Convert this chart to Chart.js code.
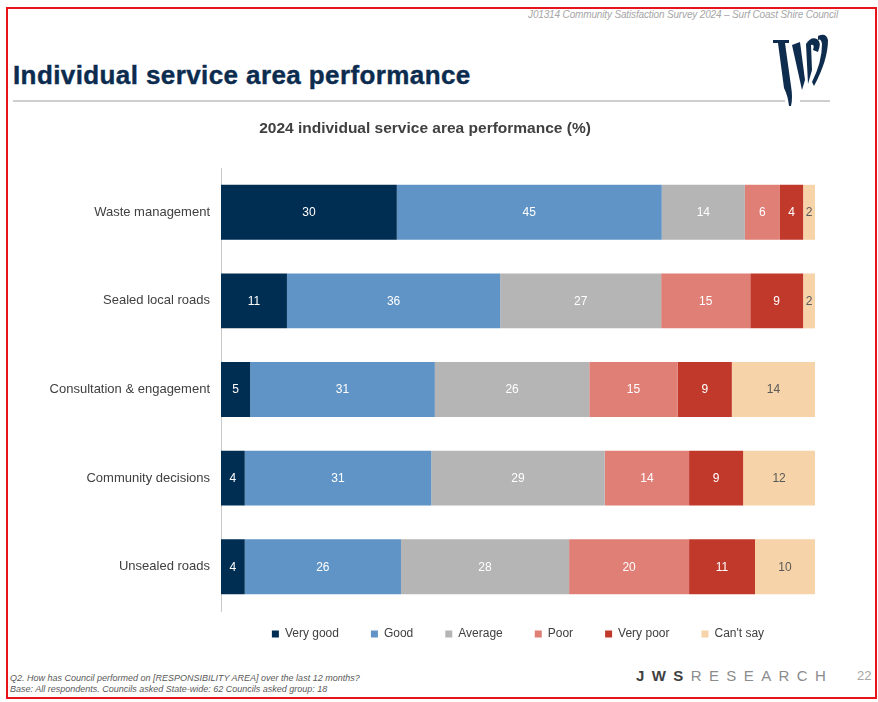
<!DOCTYPE html>
<html>
<head>
<meta charset="utf-8">
<script src="https://cdn.jsdelivr.net/npm/chart.js@4"></script>
<style>
  body { margin: 0; background: #fff; font-family: "Liberation Sans", Arial, sans-serif; }
  #slide { position: relative; width: 878px; height: 702px; overflow: hidden; background: #fff; }
  #frame { position: absolute; left: 6px; top: 7px; width: 871px; height: 692px; border: 2px solid #e8141b; box-sizing: border-box; }
  .abs { position: absolute; white-space: nowrap; }
  #survey { right: 40px; top: 9px; font-size: 10px; font-style: italic; color: #a6a6a6; letter-spacing: -0.15px; }
  #heading { left: 13px; top: 60px; font-size: 26px; font-weight: bold; color: #0c2c4f; letter-spacing: 0.4px; -webkit-text-stroke: 0.4px #0c2c4f; }
  .rule { position: absolute; top: 100px; height: 2px; background: #cfcfcf; }
  #chartBox { position: absolute; left: 35px; top: 110px; width: 805px; height: 555px; }
  #q2 { left: 10px; top: 673px; font-size: 9px; font-style: italic; color: #595959; }
  #base { left: 10px; top: 684px; font-size: 9px; font-style: italic; color: #595959; }
  #brand { left: 636px; top: 667px; font-size: 15px; letter-spacing: 7.4px; color: #8c8c8c; }
  #brand b { color: #404040; }
  #page { left: 857px; top: 668px; font-size: 13px; color: #a6a6a6; }
</style>
</head>
<body>
<div id="slide">
  <div id="frame"></div>
  <div id="survey" class="abs">J01314 Community Satisfaction Survey 2024 – Surf Coast Shire Council</div>
  <div id="heading" class="abs">Individual service area performance</div>
  <div class="rule" style="left:13px;width:772px;"></div>
  <div class="rule" style="left:800px;width:30px;"></div>
  <svg class="abs" style="left:770px;top:30px;" width="64" height="78" viewBox="0 0 64 78">
    <g fill="#0d2c4e">
      <path d="M3,10 L19,10 L19,13 L15,13 L21,56 Q23,68 21,76 L19,76 Q18,66 14,58 L8,13 L3,13 Z"/>
      <path d="M22,15 L30,12 L35,50 L32,60 Z"/>
      <path d="M36,14 Q41,6 47,9 Q52,12 48,22 L43,20 Q45,14 41,15 L42,40 L38,54 Z"/>
      <path d="M48,6 Q56,2 58,10 Q58,30 44,56 L42,52 Q52,32 52,14 Q51,8 48,10 Z"/>
    </g>
  </svg>
  <div id="chartBox"><canvas id="perfChart"></canvas></div>
  <div id="q2" class="abs">Q2. How has Council performed on [RESPONSIBILITY AREA] over the last 12 months?</div>
  <div id="base" class="abs">Base: All respondents. Councils asked State-wide: 62 Councils asked group: 18</div>
  <div id="brand" class="abs"><b>JWS</b>RESEARCH</div>
  <div id="page" class="abs">22</div>
</div>

<script>
// Service areas (rows, top to bottom)
const categories = ['Waste management', 'Sealed local roads', 'Consultation & engagement', 'Community decisions', 'Unsealed roads'];

// Response shares (%) per service area
const veryGood = [29.6, 11.1, 4.9, 4.0, 4.0];
const good     = [44.6, 35.9, 31.1, 31.4, 26.3];
const average  = [14.0, 27.1, 26.0, 29.2, 28.3];
const poor     = [5.9, 15.0, 14.9, 14.2, 20.2];
const veryPoor = [3.9, 8.9, 9.1, 9.1, 11.1];
const cantSay  = [2.0, 2.0, 14.0, 12.1, 10.1];

const seriesNames = ['Very good', 'Good', 'Average', 'Poor', 'Very poor', "Can't say"];
const seriesData = [veryGood, good, average, poor, veryPoor, cantSay];
const seriesColors = ['#002d52', '#6094c6', '#b5b5b5', '#e07f76', '#c0392b', '#f6d3a8'];
const labelColors = ['#ffffff', '#ffffff', '#ffffff', '#ffffff', '#ffffff', '#595959'];

// Draw the rounded value in the middle of each segment
const barLabels = {
    id: 'barLabels',
    afterDatasetsDraw(chart) {
        const ctx = chart.ctx;
        ctx.save();
        ctx.font = '12px "Liberation Sans", Arial, sans-serif';
        ctx.textAlign = 'center';
        ctx.textBaseline = 'middle';
        chart.data.datasets.forEach((ds, i) => {
            chart.getDatasetMeta(i).data.forEach((bar, j) => {
                ctx.fillStyle = labelColors[i];
                ctx.fillText(String(Math.round(ds.data[j])), (bar.x + bar.base) / 2, bar.y + 0.5);
            });
        });
        ctx.restore();
    }
};

// Pull the legend up closer to the bars (padding also sets the gap between items)
const legendNudge = {
    id: 'legendNudge',
    afterLayout(chart) {
        const lg = chart.legend;
        lg.top -= 15;
        lg.bottom -= 15;
    }
};

const ctx = document.getElementById('perfChart').getContext('2d');
new Chart(ctx, {
    type: 'bar',
    data: {
        labels: categories,
        datasets: seriesNames.map((name, i) => ({
            label: name,
            data: seriesData[i],
            backgroundColor: seriesColors[i],
            borderWidth: 0,
            barPercentage: 0.62,
            categoryPercentage: 1
        }))
    },
    options: {
        indexAxis: 'y',
        responsive: true,
        maintainAspectRatio: false,
        animation: false,
        layout: { padding: { left: 0, right: 25, top: 0, bottom: 0 } },
        scales: {
            x: { stacked: true, min: 0, max: 100, display: false },
            y: {
                stacked: true,
                grid: { display: false },
                border: { display: true, color: '#c8c8c8', width: 1 },
                ticks: { color: '#404040', font: { size: 13, family: '"Liberation Sans", Arial, sans-serif' }, padding: 3 },
                afterFit(scale) { scale.width = 186; }
            }
        },
        plugins: {
            title: {
                display: true,
                text: '2024 individual service area performance (%)',
                color: '#404040',
                font: { size: 15.5, weight: 'bold', family: '"Liberation Sans", Arial, sans-serif' },
                padding: { top: 9.7, bottom: 29.7 }
            },
            legend: {
                position: 'bottom',
                fullSize: false,
                labels: {
                    boxWidth: 7,
                    boxHeight: 7,
                    padding: 32,
                    color: '#404040',
                    font: { size: 12, family: '"Liberation Sans", Arial, sans-serif' }
                }
            },
            tooltip: { enabled: false }
        }
    },
    plugins: [barLabels, legendNudge]
});
</script>
</body>
</html>
